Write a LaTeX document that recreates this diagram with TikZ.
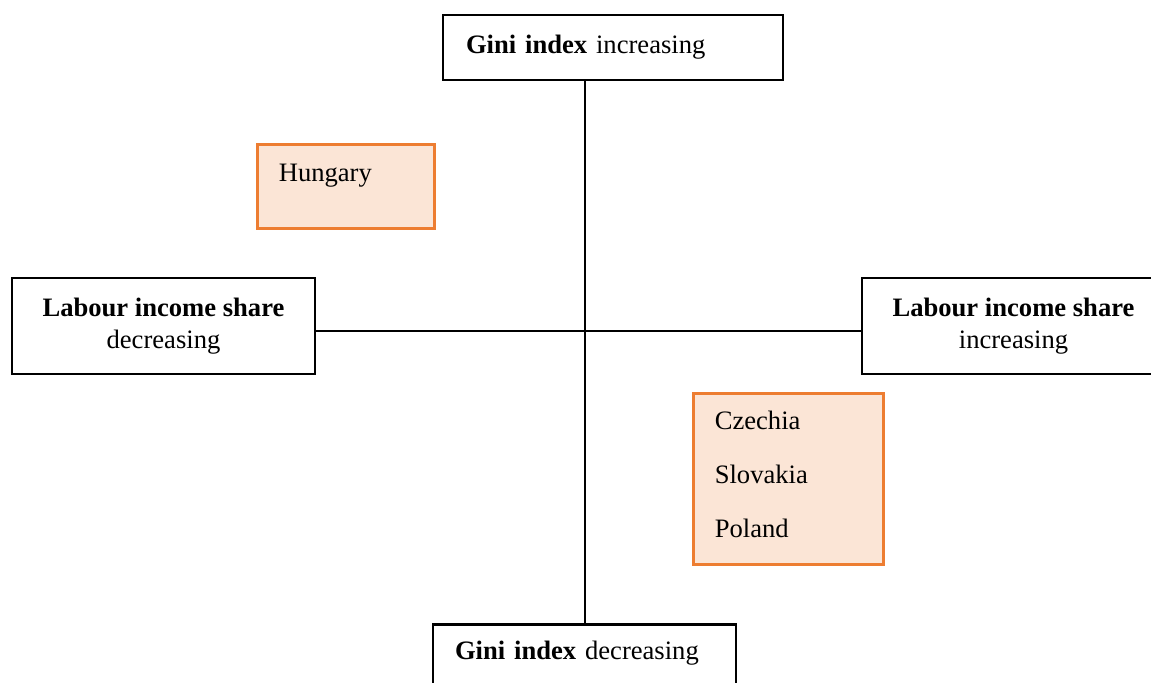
\documentclass[tikz,border=0pt]{standalone}
\usepackage{fontspec}
\setmainfont{Liberation Serif}
\usetikzlibrary{calc}

\definecolor{boxorange}{HTML}{ED7D31}
\definecolor{boxpeach}{HTML}{FBE5D6}

\tikzset{
	axisbox/.style={draw=black, line width=1.4pt, fill=white, inner sep=0pt, font=\fontsize{13.3}{16}\selectfont},
	countrybox/.style={draw=boxorange, fill=boxpeach, line width=1.3pt, inner ysep=0pt, inner xsep=10.75pt, align=left, anchor=north west, font=\fontsize{13.3}{27}\selectfont},
	axisline/.style={line width=0.65pt}
}

\begin{document}
\begin{tikzpicture}[x=0.5pt, y=-0.5pt]
			%%%%% FRAME %%%%%
			\clip (0,0) rectangle (1151,682);
			\fill[white] (0,0) rectangle (1151,682);
			
			%%%%% AXIS BOXES %%%%%
			\node[axisbox, minimum width=170pt, minimum height=32.5pt, text width=147pt, align=left] (giniup) at (613, 47.5) {\textbf{Gini index} increasing};
			\node[axisbox, anchor=north, minimum width=151.5pt, text width=129.5pt, text height=17.5pt, text depth=20pt, align=left] (ginidown) at (584.5, 623) {\textbf{Gini index} decreasing};
			\node[axisbox, minimum width=151.5pt, minimum height=48pt, align=center] (lisdown) at (163.5, 326) {\textbf{Labour income share}\\decreasing};
			\node[axisbox, minimum width=151.5pt, minimum height=48pt, align=center] (lisup) at (1013.5, 326) {\textbf{Labour income share}\\increasing};
			
			%%%%% AXES %%%%%
			\coordinate (centre) at (585, 331);
			\draw[axisline] (centre |- giniup.south) -- (centre |- ginidown.north);
			\draw[axisline] (centre -| lisdown.east) -- (centre -| lisup.west);
			
			%%%%% COUNTRIES %%%%%
			\node[countrybox, text width=67pt, text height=18.5pt, text depth=23.5pt] (hungary) at (256, 143) {Hungary};
			\node[countrybox, text width=73.5pt, text height=18pt, text depth=67.5pt] (czsk) at (692, 392) {Czechia\\Slovakia\\Poland};
\end{tikzpicture}
\end{document}
